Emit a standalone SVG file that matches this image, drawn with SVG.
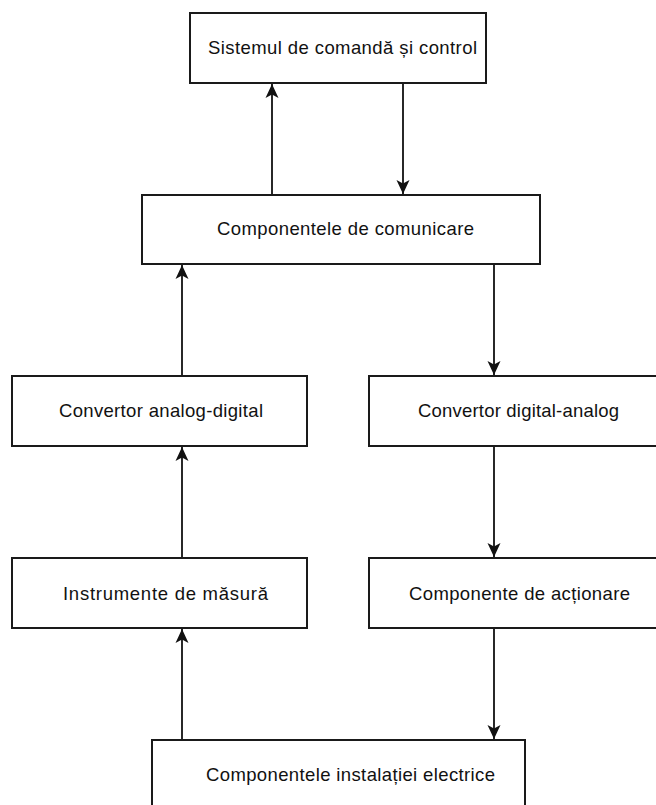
<svg xmlns="http://www.w3.org/2000/svg" width="656" height="805" viewBox="0 0 656 805">
<style>
.box{fill:#fff;stroke:#1a1a1a;stroke-width:2}
.lbl{font-family:"Liberation Sans",Arial,sans-serif;font-size:18.5px;fill:#111}
.con{stroke:#111;stroke-width:1.8;fill:none}
</style>
<defs>
<marker id="arr" viewBox="0 0 14 14" refX="14" refY="7" markerWidth="14" markerHeight="14" markerUnits="userSpaceOnUse" orient="auto">
<path d="M0,0.5 L14,7 L0,13.5 L3.5,7 Z" fill="#111"/>
</marker>
</defs>
<rect width="656" height="805" fill="#fff"/>
<g id="connectors">
<line class="con" x1="272" y1="195" x2="272" y2="84" marker-end="url(#arr)"/>
<line class="con" x1="403" y1="83" x2="403" y2="194" marker-end="url(#arr)"/>
<line class="con" x1="182" y1="376" x2="182" y2="265" marker-end="url(#arr)"/>
<line class="con" x1="494" y1="264" x2="494" y2="375" marker-end="url(#arr)"/>
<line class="con" x1="182" y1="558" x2="182" y2="447" marker-end="url(#arr)"/>
<line class="con" x1="494" y1="446" x2="494" y2="557" marker-end="url(#arr)"/>
<line class="con" x1="182" y1="740" x2="182" y2="629" marker-end="url(#arr)"/>
<line class="con" x1="494" y1="628" x2="494" y2="739" marker-end="url(#arr)"/>
</g>
<g id="node-sistem">
<rect class="box" x="190" y="13" width="296" height="70"/>
<text class="lbl" x="208" y="54" textLength="269">Sistemul de comandă și control</text>
</g>
<g id="node-comunicare">
<rect class="box" x="142" y="195" width="398" height="69"/>
<text class="lbl" x="217" y="234.5" textLength="257">Componentele de comunicare</text>
</g>
<g id="node-adc">
<rect class="box" x="12" y="376" width="295" height="70"/>
<text class="lbl" x="59" y="417" textLength="204">Convertor analog-digital</text>
</g>
<g id="node-dac">
<rect class="box" x="369" y="376" width="300" height="70"/>
<text class="lbl" x="418" y="417" textLength="201">Convertor digital-analog</text>
</g>
<g id="node-instrumente">
<rect class="box" x="12" y="558" width="295" height="70"/>
<text class="lbl" x="63" y="599.5" textLength="205">Instrumente de măsură</text>
</g>
<g id="node-actionare">
<rect class="box" x="369" y="558" width="300" height="70"/>
<text class="lbl" x="409" y="599.5" textLength="221">Componente de acționare</text>
</g>
<g id="node-instalatie">
<rect class="box" x="152" y="740" width="373" height="80"/>
<text class="lbl" x="206" y="781" textLength="289">Componentele instalației electrice</text>
</g>
</svg>
